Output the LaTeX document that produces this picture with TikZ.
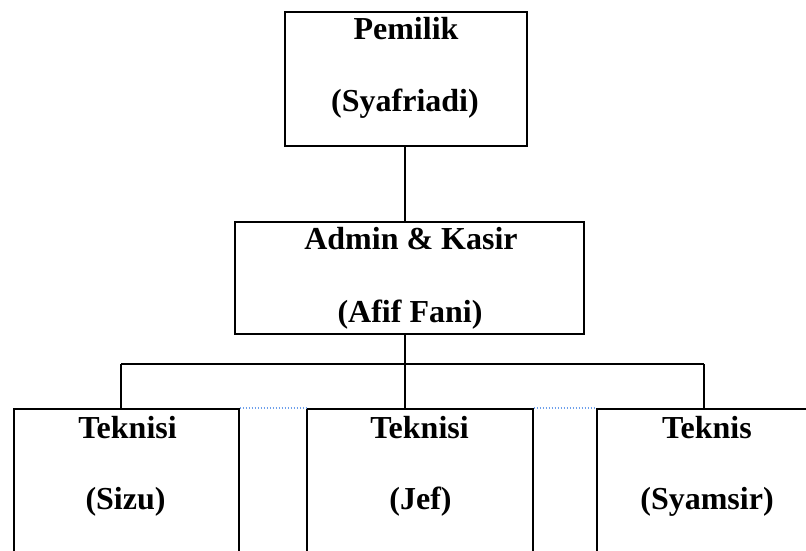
\documentclass[tikz,border=0pt]{standalone}
\usepackage{fontspec}
\setmainfont{Liberation Serif}
\begin{document}
\begin{tikzpicture}[x=1pt,y=-1pt,
  box/.style={draw=black,line width=1.6pt,fill=none},
  lbl/.style={anchor=base,inner sep=0pt,font=\fontsize{32}{38}\selectfont\bfseries},
  conn/.style={draw=black,line width=1.6pt},
  gap/.style={draw={rgb,255:red,110;green,160;blue,235},line width=1.5pt,dash pattern=on 1.2pt off 1.8pt}]
\useasboundingbox (0,0) rectangle (806,551);
\clip (0,0) rectangle (806,551);
% boxes
\node[box,minimum width=242pt,minimum height=134pt,inner sep=0pt] (pem) at (406,79) {};
\node[box,minimum width=349pt,minimum height=112pt,inner sep=0pt] (adm) at (409.5,278) {};
\node[box,minimum width=225pt,minimum height=200pt,inner sep=0pt,anchor=north west] (b1) at (13,408) {};
\node[box,minimum width=226pt,minimum height=200pt,inner sep=0pt,anchor=north west] (b2) at (306,408) {};
\node[box,minimum width=240pt,minimum height=200pt,inner sep=0pt,anchor=north west] (b3) at (596,408) {};
% labels
\node[lbl] (t1) at (406,40) {Pemilik};
\node[lbl] (t2) at (405,111) {(Syafriadi)};
\node[lbl] (t3) at (411,249) {Admin \& Kasir};
\node[lbl] (t4) at (410,322) {(Afif Fani)};
\node[lbl] (t5) at (127.5,438) {Teknisi};
\node[lbl] (t6) at (125.5,509) {(Sizu)};
\node[lbl] (t7) at (419.5,438) {Teknisi};
\node[lbl] (t8) at (420.5,509) {(Jef)};
\node[lbl] (t9) at (707,438) {Teknis};
\node[lbl] (t10) at (707,509) {(Syamsir)};
% connectors
\coordinate (top) at (405,146);
\coordinate (jm) at (405,364);
\coordinate (jl) at (121,364);
\coordinate (jr) at (704,364);
\draw[conn] (top) -- (top |- adm.north);
\draw[conn] (jm |- adm.south) -- (jm);
\draw[conn] (jl) -- (jr);
\draw[conn] (jl) -- (jl |- b1.north);
\draw[conn] (jm) -- (jm |- b2.north);
\draw[conn] (jr) -- (jr |- b3.north);
% dotted gaps
\draw[gap] (b1.north east) -- (b2.north west);
\draw[gap] (b2.north east) -- (b3.north west);
\end{tikzpicture}
\end{document}
